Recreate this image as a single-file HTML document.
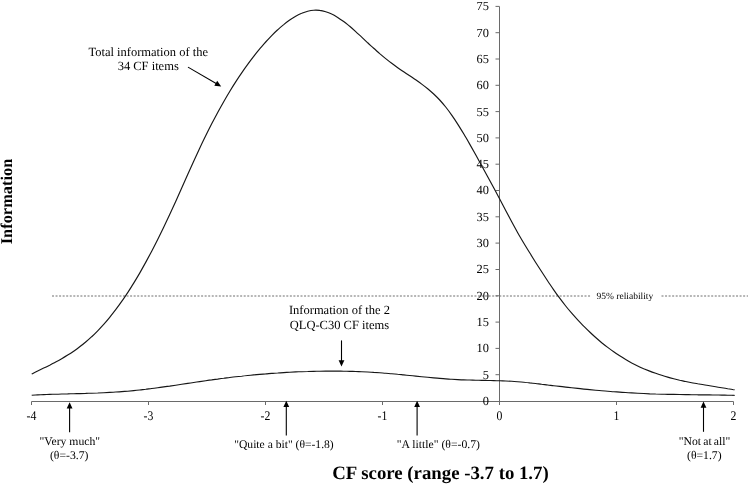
<!DOCTYPE html>
<html><head><meta charset="utf-8"><title>CF information</title>
<style>
html,body{margin:0;padding:0;background:#fff;}
body{width:750px;height:485px;overflow:hidden;}
svg{display:block;}
text{font-family:"Liberation Serif","DejaVu Serif",serif;fill:#000;text-rendering:geometricPrecision;}
</style></head><body>
<svg width="750" height="485" viewBox="0 0 750 485">
<rect width="750" height="485" fill="#fff"/>

<g stroke="#6e6e6e" stroke-width="1" stroke-dasharray="2 1.55" fill="none">
<line x1="52" y1="296" x2="590.5" y2="296"/><line x1="661.5" y1="296" x2="748" y2="296"/></g>
<g stroke="#6a6a6a" stroke-width="1" fill="none">
<line x1="31.5" y1="401.5" x2="733.5" y2="401.5"/>
<line x1="499.5" y1="6.5" x2="499.5" y2="401.5"/>
<line x1="31.5" y1="401.5" x2="31.5" y2="405.0"/>
<line x1="148.5" y1="401.5" x2="148.5" y2="405.0"/>
<line x1="265.5" y1="401.5" x2="265.5" y2="405.0"/>
<line x1="382.5" y1="401.5" x2="382.5" y2="405.0"/>
<line x1="499.5" y1="401.5" x2="499.5" y2="405.0"/>
<line x1="616.5" y1="401.5" x2="616.5" y2="405.0"/>
<line x1="733.5" y1="401.5" x2="733.5" y2="405.0"/>
<line x1="495.5" y1="401.5" x2="499.5" y2="401.5"/>
<line x1="495.5" y1="374.7" x2="499.5" y2="374.7"/>
<line x1="495.5" y1="348.4" x2="499.5" y2="348.4"/>
<line x1="495.5" y1="322.1" x2="499.5" y2="322.1"/>
<line x1="495.5" y1="295.8" x2="499.5" y2="295.8"/>
<line x1="495.5" y1="269.5" x2="499.5" y2="269.5"/>
<line x1="495.5" y1="243.1" x2="499.5" y2="243.1"/>
<line x1="495.5" y1="216.8" x2="499.5" y2="216.8"/>
<line x1="495.5" y1="190.5" x2="499.5" y2="190.5"/>
<line x1="495.5" y1="164.2" x2="499.5" y2="164.2"/>
<line x1="495.5" y1="137.9" x2="499.5" y2="137.9"/>
<line x1="495.5" y1="111.6" x2="499.5" y2="111.6"/>
<line x1="495.5" y1="85.3" x2="499.5" y2="85.3"/>
<line x1="495.5" y1="59.0" x2="499.5" y2="59.0"/>
<line x1="495.5" y1="32.7" x2="499.5" y2="32.7"/>
<line x1="495.5" y1="6.4" x2="499.5" y2="6.4"/>
</g>
<g font-size="11.8" text-anchor="middle">
<text transform="translate(31.5,419.8) scale(1,1.12)">-4</text>
<text transform="translate(148.5,419.8) scale(1,1.12)">-3</text>
<text transform="translate(265.5,419.8) scale(1,1.12)">-2</text>
<text transform="translate(382.5,419.8) scale(1,1.12)">-1</text>
<text transform="translate(499.5,419.8) scale(1,1.12)">0</text>
<text transform="translate(616.5,419.8) scale(1,1.12)">1</text>
<text transform="translate(733.5,419.8) scale(1,1.12)">2</text>
</g>
<g font-size="12.4" text-anchor="end">
<text x="489" y="404.9">0</text>
<text x="489" y="378.6">5</text>
<text x="489" y="352.3">10</text>
<text x="489" y="326.0">15</text>
<text x="489" y="299.7">20</text>
<text x="489" y="273.4">25</text>
<text x="489" y="247.0">30</text>
<text x="489" y="220.7">35</text>
<text x="489" y="194.4">40</text>
<text x="489" y="168.1">45</text>
<text x="489" y="141.8">50</text>
<text x="489" y="115.5">55</text>
<text x="489" y="89.2">60</text>
<text x="489" y="62.9">65</text>
<text x="489" y="36.6">70</text>
<text x="489" y="10.3">75</text>
</g>
<path d="M31.7,373.9 C32.7,373.4 35.7,372.0 37.7,371.0 C39.7,370.1 41.7,369.1 43.7,368.1 C45.7,367.2 47.7,366.2 49.7,365.2 C51.7,364.1 53.7,363.1 55.7,362.0 C57.7,361.0 59.7,359.9 61.7,358.7 C63.7,357.6 65.7,356.4 67.7,355.1 C69.7,353.9 71.7,352.6 73.7,351.2 C75.7,349.8 77.7,348.4 79.7,346.8 C81.7,345.3 83.7,343.7 85.7,342.0 C87.7,340.4 89.7,338.6 91.7,336.7 C93.7,334.9 95.7,332.9 97.7,330.8 C99.7,328.8 101.7,326.6 103.7,324.4 C105.7,322.1 107.7,319.8 109.7,317.3 C111.7,314.9 113.7,312.3 115.7,309.7 C117.7,307.0 119.7,304.3 121.7,301.4 C123.7,298.6 125.7,295.6 127.7,292.6 C129.7,289.5 131.7,286.4 133.7,283.1 C135.7,279.9 137.7,276.5 139.7,273.1 C141.7,269.6 143.7,266.0 145.7,262.4 C147.7,258.7 149.7,255.0 151.7,251.2 C153.7,247.4 155.7,243.5 157.7,239.5 C159.7,235.5 161.7,231.4 163.7,227.3 C165.7,223.1 167.7,218.8 169.7,214.5 C171.7,210.2 173.7,205.8 175.7,201.4 C177.7,196.9 179.7,192.4 181.7,188.0 C183.7,183.5 185.7,179.0 187.7,174.5 C189.7,170.0 191.7,165.6 193.7,161.2 C195.7,156.8 197.7,152.5 199.7,148.2 C201.7,144.0 203.7,139.8 205.7,135.8 C207.7,131.7 209.7,127.7 211.7,123.8 C213.7,120.0 215.7,116.2 217.7,112.5 C219.7,108.8 221.7,105.2 223.7,101.7 C225.7,98.2 227.7,94.8 229.7,91.5 C231.7,88.2 233.7,85.0 235.7,81.9 C237.7,78.8 239.7,75.8 241.7,72.9 C243.7,69.9 245.7,67.1 247.7,64.4 C249.7,61.6 251.7,59.0 253.7,56.4 C255.7,53.8 257.7,51.3 259.7,48.9 C261.7,46.6 263.7,44.2 265.7,42.0 C267.7,39.8 269.7,37.7 271.7,35.6 C273.7,33.6 275.7,31.6 277.7,29.8 C279.7,27.9 281.7,26.2 283.7,24.6 C285.7,22.9 287.7,21.4 289.7,20.0 C291.7,18.6 293.7,17.4 295.7,16.2 C297.7,15.1 299.7,14.1 301.7,13.3 C303.7,12.4 305.7,11.7 307.7,11.2 C309.7,10.7 311.7,10.3 313.7,10.2 C315.7,10.1 317.7,10.1 319.7,10.4 C321.7,10.6 323.7,11.1 325.7,11.7 C327.7,12.3 329.7,13.1 331.7,14.1 C333.7,15.0 335.7,16.2 337.7,17.4 C339.7,18.7 341.7,20.1 343.7,21.5 C345.7,23.0 347.7,24.7 349.7,26.3 C351.7,28.0 353.7,29.8 355.7,31.6 C357.7,33.4 359.7,35.3 361.7,37.1 C363.7,39.0 365.7,40.9 367.7,42.8 C369.7,44.6 371.7,46.5 373.7,48.3 C375.7,50.1 377.7,51.8 379.7,53.6 C381.7,55.3 383.7,57.0 385.7,58.6 C387.7,60.2 389.7,61.8 391.7,63.3 C393.7,64.8 395.7,66.3 397.7,67.7 C399.7,69.1 401.7,70.5 403.7,71.8 C405.7,73.2 407.7,74.5 409.7,75.8 C411.7,77.1 413.7,78.5 415.7,79.8 C417.7,81.2 419.7,82.6 421.7,84.1 C423.7,85.6 425.7,87.1 427.7,88.7 C429.7,90.4 431.7,92.1 433.7,94.0 C435.7,95.9 437.7,97.8 439.7,100.0 C441.7,102.2 443.7,104.5 445.7,107.0 C447.7,109.5 449.7,112.2 451.7,115.1 C453.7,117.9 455.7,120.9 457.7,124.1 C459.7,127.2 461.7,130.5 463.7,133.8 C465.7,137.1 467.7,140.6 469.7,144.1 C471.7,147.6 473.7,151.2 475.7,154.8 C477.7,158.4 479.7,162.0 481.7,165.7 C483.7,169.3 485.7,173.0 487.7,176.7 C489.7,180.3 491.7,184.0 493.7,187.8 C495.7,191.5 497.7,195.2 499.7,199.0 C501.7,202.8 503.7,206.7 505.7,210.5 C507.7,214.3 509.7,218.1 511.7,221.8 C513.7,225.5 515.7,229.2 517.7,232.7 C519.7,236.2 521.7,239.6 523.7,243.0 C525.7,246.3 527.7,249.6 529.7,252.8 C531.7,256.1 533.7,259.3 535.7,262.5 C537.7,265.6 539.7,268.7 541.7,271.8 C543.7,274.9 545.7,278.0 547.7,281.0 C549.7,284.0 551.7,286.9 553.7,289.8 C555.7,292.7 557.7,295.5 559.7,298.2 C561.7,300.9 563.7,303.5 565.7,306.0 C567.7,308.5 569.7,310.9 571.7,313.2 C573.7,315.5 575.7,317.7 577.7,319.9 C579.7,322.1 581.7,324.1 583.7,326.2 C585.7,328.2 587.7,330.2 589.7,332.0 C591.7,333.9 593.7,335.8 595.7,337.5 C597.7,339.3 599.7,341.0 601.7,342.7 C603.7,344.3 605.7,345.9 607.7,347.4 C609.7,348.9 611.7,350.4 613.7,351.8 C615.7,353.2 617.7,354.5 619.7,355.8 C621.7,357.1 623.7,358.3 625.7,359.5 C627.7,360.7 629.7,361.8 631.7,362.9 C633.7,363.9 635.7,364.9 637.7,365.9 C639.7,366.9 641.7,367.8 643.7,368.7 C645.7,369.5 647.7,370.3 649.7,371.1 C651.7,371.9 653.7,372.6 655.7,373.3 C657.7,374.0 659.7,374.7 661.7,375.3 C663.7,376.0 665.7,376.6 667.7,377.1 C669.7,377.7 671.7,378.2 673.7,378.7 C675.7,379.2 677.7,379.7 679.7,380.2 C681.7,380.6 683.7,381.1 685.7,381.5 C687.7,381.9 689.7,382.3 691.7,382.7 C693.7,383.1 695.7,383.4 697.7,383.8 C699.7,384.1 701.7,384.5 703.7,384.8 C705.7,385.1 707.7,385.5 709.7,385.8 C711.7,386.1 713.7,386.4 715.7,386.7 C717.7,387.1 719.7,387.4 721.7,387.7 C723.7,388.0 725.7,388.3 727.7,388.7 C729.7,389.0 732.7,389.5 733.7,389.7 C734.7,389.8 733.8,389.7 733.8,389.7" fill="none" stroke="#161616" stroke-width="1.15"/>
<path d="M31.7,395.2 C32.7,395.1 35.7,395.0 37.7,394.9 C39.7,394.8 41.7,394.7 43.7,394.6 C45.7,394.5 47.7,394.5 49.7,394.4 C51.7,394.3 53.7,394.3 55.7,394.2 C57.7,394.2 59.7,394.1 61.7,394.0 C63.7,394.0 65.7,393.9 67.7,393.9 C69.7,393.8 71.7,393.8 73.7,393.7 C75.7,393.7 77.7,393.6 79.7,393.6 C81.7,393.5 83.7,393.4 85.7,393.4 C87.7,393.3 89.7,393.3 91.7,393.2 C93.7,393.1 95.7,393.0 97.7,393.0 C99.7,392.9 101.7,392.8 103.7,392.7 C105.7,392.6 107.7,392.5 109.7,392.4 C111.7,392.3 113.7,392.2 115.7,392.0 C117.7,391.9 119.7,391.8 121.7,391.6 C123.7,391.5 125.7,391.3 127.7,391.2 C129.7,391.0 131.7,390.8 133.7,390.6 C135.7,390.4 137.7,390.2 139.7,390.0 C141.7,389.8 143.7,389.5 145.7,389.3 C147.7,389.0 149.7,388.8 151.7,388.5 C153.7,388.3 155.7,388.0 157.7,387.7 C159.7,387.5 161.7,387.2 163.7,386.9 C165.7,386.6 167.7,386.3 169.7,386.1 C171.7,385.8 173.7,385.5 175.7,385.2 C177.7,384.9 179.7,384.6 181.7,384.3 C183.7,384.0 185.7,383.7 187.7,383.4 C189.7,383.1 191.7,382.8 193.7,382.5 C195.7,382.2 197.7,381.9 199.7,381.6 C201.7,381.3 203.7,381.0 205.7,380.7 C207.7,380.4 209.7,380.1 211.7,379.9 C213.7,379.6 215.7,379.3 217.7,379.1 C219.7,378.8 221.7,378.5 223.7,378.3 C225.7,378.0 227.7,377.8 229.7,377.5 C231.7,377.3 233.7,377.1 235.7,376.8 C237.7,376.6 239.7,376.4 241.7,376.2 C243.7,375.9 245.7,375.7 247.7,375.5 C249.7,375.3 251.7,375.1 253.7,374.9 C255.7,374.7 257.7,374.6 259.7,374.4 C261.7,374.2 263.7,374.0 265.7,373.9 C267.7,373.7 269.7,373.6 271.7,373.4 C273.7,373.3 275.7,373.1 277.7,373.0 C279.7,372.8 281.7,372.7 283.7,372.6 C285.7,372.5 287.7,372.3 289.7,372.2 C291.7,372.1 293.7,372.0 295.7,371.9 C297.7,371.8 299.7,371.8 301.7,371.7 C303.7,371.6 305.7,371.5 307.7,371.5 C309.7,371.4 311.7,371.3 313.7,371.3 C315.7,371.3 317.7,371.2 319.7,371.2 C321.7,371.1 323.7,371.1 325.7,371.1 C327.7,371.1 329.7,371.1 331.7,371.1 C333.7,371.1 335.7,371.1 337.7,371.1 C339.7,371.1 341.7,371.2 343.7,371.2 C345.7,371.2 347.7,371.3 349.7,371.3 C351.7,371.4 353.7,371.4 355.7,371.5 C357.7,371.6 359.7,371.6 361.7,371.7 C363.7,371.8 365.7,371.9 367.7,372.0 C369.7,372.1 371.7,372.2 373.7,372.4 C375.7,372.5 377.7,372.6 379.7,372.7 C381.7,372.9 383.7,373.0 385.7,373.2 C387.7,373.4 389.7,373.5 391.7,373.7 C393.7,373.9 395.7,374.1 397.7,374.3 C399.7,374.4 401.7,374.7 403.7,374.9 C405.7,375.1 407.7,375.3 409.7,375.5 C411.7,375.7 413.7,375.9 415.7,376.1 C417.7,376.3 419.7,376.5 421.7,376.7 C423.7,376.9 425.7,377.1 427.7,377.3 C429.7,377.5 431.7,377.7 433.7,377.9 C435.7,378.1 437.7,378.3 439.7,378.4 C441.7,378.6 443.7,378.8 445.7,378.9 C447.7,379.0 449.7,379.2 451.7,379.3 C453.7,379.4 455.7,379.5 457.7,379.6 C459.7,379.7 461.7,379.8 463.7,379.8 C465.7,379.9 467.7,380.0 469.7,380.0 C471.7,380.1 473.7,380.1 475.7,380.2 C477.7,380.2 479.7,380.3 481.7,380.3 C483.7,380.4 485.7,380.4 487.7,380.5 C489.7,380.5 491.7,380.6 493.7,380.6 C495.7,380.7 497.7,380.7 499.7,380.8 C501.7,380.9 503.7,380.9 505.7,381.0 C507.7,381.1 509.7,381.2 511.7,381.3 C513.7,381.5 515.7,381.6 517.7,381.7 C519.7,381.9 521.7,382.1 523.7,382.2 C525.7,382.4 527.7,382.6 529.7,382.9 C531.7,383.1 533.7,383.3 535.7,383.5 C537.7,383.8 539.7,384.0 541.7,384.3 C543.7,384.5 545.7,384.8 547.7,385.0 C549.7,385.2 551.7,385.5 553.7,385.7 C555.7,386.0 557.7,386.2 559.7,386.4 C561.7,386.7 563.7,386.9 565.7,387.1 C567.7,387.4 569.7,387.6 571.7,387.8 C573.7,388.0 575.7,388.2 577.7,388.4 C579.7,388.7 581.7,388.9 583.7,389.1 C585.7,389.3 587.7,389.5 589.7,389.6 C591.7,389.8 593.7,390.0 595.7,390.2 C597.7,390.4 599.7,390.6 601.7,390.7 C603.7,390.9 605.7,391.1 607.7,391.2 C609.7,391.4 611.7,391.5 613.7,391.7 C615.7,391.8 617.7,392.0 619.7,392.1 C621.7,392.3 623.7,392.4 625.7,392.5 C627.7,392.7 629.7,392.8 631.7,392.9 C633.7,393.0 635.7,393.1 637.7,393.2 C639.7,393.3 641.7,393.4 643.7,393.5 C645.7,393.6 647.7,393.7 649.7,393.8 C651.7,393.8 653.7,393.9 655.7,394.0 C657.7,394.0 659.7,394.1 661.7,394.2 C663.7,394.2 665.7,394.3 667.7,394.3 C669.7,394.4 671.7,394.4 673.7,394.4 C675.7,394.5 677.7,394.5 679.7,394.5 C681.7,394.6 683.7,394.6 685.7,394.6 C687.7,394.6 689.7,394.7 691.7,394.7 C693.7,394.7 695.7,394.7 697.7,394.8 C699.7,394.8 701.7,394.8 703.7,394.8 C705.7,394.9 707.7,394.9 709.7,394.9 C711.7,394.9 713.7,395.0 715.7,395.0 C717.7,395.0 719.7,395.1 721.7,395.1 C723.7,395.1 725.7,395.2 727.7,395.2 C729.7,395.2 732.7,395.3 733.7,395.3 C734.7,395.4 733.8,395.3 733.8,395.3" fill="none" stroke="#161616" stroke-width="1.15"/>
<line x1="188.0" y1="67.1" x2="216.6" y2="83.8" stroke="#000" stroke-width="1.1"/><polygon points="221.2,86.5 214.3,85.8 217.2,80.8" fill="#000"/>
<line x1="341.5" y1="340.4" x2="341.5" y2="361.3" stroke="#000" stroke-width="1.1"/><polygon points="341.5,366.6 338.6,360.3 344.4,360.3" fill="#000"/>
<line x1="69.6" y1="432.2" x2="69.6" y2="407.6" stroke="#000" stroke-width="1.1"/><polygon points="69.6,402.3 72.5,408.6 66.7,408.6" fill="#000"/>
<line x1="286.3" y1="435.5" x2="286.3" y2="406.1" stroke="#000" stroke-width="1.1"/><polygon points="286.3,400.8 289.2,407.1 283.4,407.1" fill="#000"/>
<line x1="417.1" y1="435.5" x2="417.1" y2="406.1" stroke="#000" stroke-width="1.1"/><polygon points="417.1,400.8 420.0,407.1 414.2,407.1" fill="#000"/>
<line x1="703.5" y1="431.8" x2="703.5" y2="406.7" stroke="#000" stroke-width="1.1"/><polygon points="703.5,401.4 706.4,407.7 700.6,407.7" fill="#000"/>
<g font-size="12.5" text-anchor="middle">
<text x="148.2" y="55.6">Total information of the</text>
<text x="148.2" y="69.8">34 CF items</text>
<text x="339.4" y="313.8">Information of the 2</text>
<text x="339.4" y="328.7">QLQ-C30 CF items</text>
</g>
<g font-size="11.7" text-anchor="middle">
<text x="69.8" y="444.8">"Very much"</text>
<text x="69.2" y="458.6">(θ=-3.7)</text>
<text x="284" y="448.4" font-size="11.6">"Quite a bit" (θ=-1.8)</text>
<text x="438.4" y="448.4">"A little" (θ=-0.7)</text>
<text x="704.5" y="444.8" word-spacing="-0.8">"Not at all"</text>
<text x="704.3" y="458.6">(θ=1.7)</text>
</g>
<text x="624.9" y="299" font-size="9.5" text-anchor="middle">95% reliability</text>
<text x="440.5" y="478.6" font-size="18.8" font-weight="bold" text-anchor="middle">CF score (range -3.7 to 1.7)</text>
<text transform="translate(12.4,201.5) rotate(-90)" font-size="16.4" font-weight="bold" text-anchor="middle">Information</text>
</svg></body></html>
